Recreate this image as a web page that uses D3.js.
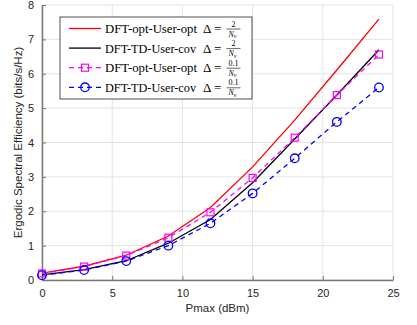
<!DOCTYPE html>
<html>
<head>
<meta charset="utf-8">
<script src="https://cdn.jsdelivr.net/npm/d3@7"></script>
<style>
  body { margin: 0; background: #fff; }
  svg { display: block; }
  .tick text { font-family: 'Liberation Sans', Arial, sans-serif; font-size: 11px; fill: #262626; }
</style>
</head>
<body>
<div id="chart"></div>
<script>
'use strict'

const pmax = [0, 3, 6, 9, 12, 15, 18, 21, 24]
const optUserOpt2 = [0.2, 0.4, 0.72, 1.28, 2.11, 3.29, 4.65, 6.11, 7.59]
const tdUserCov2 = [0.15, 0.3, 0.56, 1.07, 1.76, 2.83, 4.1, 5.38, 6.7]
const optUserOpt01 = [0.19, 0.39, 0.71, 1.23, 1.97, 2.97, 4.14, 5.38, 6.56]
const tdUserCov01 = [0.14, 0.29, 0.55, 1.0, 1.65, 2.52, 3.54, 4.6, 5.6]

const xTicks = [0, 5, 10, 15, 20, 25]
const yTicks = [0, 1, 2, 3, 4, 5, 6, 7, 8]

const series = [
  { name: 'DFT-opt-User-opt', num: '2', values: optUserOpt2, color: '#ff0000', dash: null, marker: null },
  { name: 'DFT-TD-User-cov', num: '2', values: tdUserCov2, color: '#000000', dash: null, marker: null },
  { name: 'DFT-opt-User-opt', num: '0.1', values: optUserOpt01, color: '#ff00ff', dash: '5,4', marker: 'square' },
  { name: 'DFT-TD-User-cov', num: '0.1', values: tdUserCov01, color: '#0000ff', dash: '5,4', marker: 'circle' }
]

const width = 417
const height = 325
const margin = { top: 5, right: 24, bottom: 45, left: 42 }
const w = width - margin.left - margin.right
const h = height - margin.top - margin.bottom

const svg = d3.select('#chart').append('svg')
  .attr('width', width)
  .attr('height', height)

const g = svg.append('g')
  .attr('transform', `translate(${margin.left}, ${margin.top})`)

const x = d3.scaleLinear().domain([0, 25]).range([0, w])
const y = d3.scaleLinear().domain([0, 8]).range([h, 0])

// grid
g.append('g').selectAll('line').data(xTicks).join('line')
  .attr('x1', (d) => x(d)).attr('x2', (d) => x(d))
  .attr('y1', 0).attr('y2', h)
  .attr('stroke', '#e3e3e3').attr('stroke-width', 1)
g.append('g').selectAll('line').data(yTicks).join('line')
  .attr('y1', (d) => y(d)).attr('y2', (d) => y(d))
  .attr('x1', 0).attr('x2', w)
  .attr('stroke', '#e3e3e3').attr('stroke-width', 1)

// axes
const xAxis = g.append('g')
  .attr('transform', `translate(0, ${h})`)
  .call(d3.axisBottom(x).tickValues(xTicks).tickSizeInner(-4).tickSizeOuter(0).tickPadding(9))
const yAxis = g.append('g')
  .call(d3.axisLeft(y).tickValues(yTicks).tickSizeInner(-4).tickSizeOuter(0).tickPadding(8))
for (const ax of [xAxis, yAxis]) {
  ax.select('.domain').attr('stroke', '#777').attr('stroke-width', 1.5)
  ax.selectAll('.tick line').attr('stroke', '#777')
}

// lines
const line = d3.line()
  .x((d, i) => x(pmax[i]))
  .y((d) => y(d))

series.forEach((s) => {
  g.append('path')
    .datum(s.values)
    .attr('fill', 'none')
    .attr('stroke', s.color)
    .attr('stroke-width', 1.3)
    .attr('stroke-dasharray', s.dash)
    .attr('d', line)
})

function drawMarker (sel, type, color, cx, cy) {
  if (type === 'square') {
    sel.append('rect')
      .attr('x', cx - 3.5).attr('y', cy - 3.5)
      .attr('width', 7).attr('height', 7)
      .attr('fill', 'none').attr('stroke', color).attr('stroke-width', 1.2)
  } else if (type === 'circle') {
    sel.append('circle')
      .attr('cx', cx).attr('cy', cy).attr('r', 4.3)
      .attr('fill', 'none').attr('stroke', color).attr('stroke-width', 1.3)
  }
}

series.filter((s) => s.marker).forEach((s) => {
  const mg = g.append('g')
  s.values.forEach((v, i) => drawMarker(mg, s.marker, s.color, x(pmax[i]), y(v)))
})

// axis labels
svg.append('text')
  .attr('x', margin.left + w / 2).attr('y', 312)
  .attr('text-anchor', 'middle')
  .attr('font-family', 'Liberation Sans, Arial, sans-serif')
  .attr('font-size', 11.5).attr('fill', '#262626')
  .text('Pmax (dBm)')
svg.append('text')
  .attr('transform', `translate(22, ${margin.top + h / 2}) rotate(-90)`)
  .attr('text-anchor', 'middle')
  .attr('font-family', 'Liberation Sans, Arial, sans-serif')
  .attr('font-size', 11.5).attr('fill', '#262626')
  .text('Ergodic Spectral Efficiency (bits/s/Hz)')

// legend
const legend = svg.append('g').attr('transform', 'translate(60, 17)')
legend.append('rect')
  .attr('width', 192).attr('height', 82)
  .attr('fill', '#fff').attr('stroke', '#262626').attr('stroke-width', 0.8)

const serif = 'Liberation Serif, Times New Roman, serif'
series.forEach((s, i) => {
  const ly = 11.5 + i * 19.6
  const row = legend.append('g').attr('transform', `translate(0, ${ly})`)
  row.append('line')
    .attr('x1', 9).attr('x2', 41).attr('y1', 0).attr('y2', 0)
    .attr('stroke', s.color).attr('stroke-width', 1.3)
    .attr('stroke-dasharray', s.dash)
  drawMarker(row, s.marker, s.color, 25, 0)
  row.append('text')
    .attr('x', 45).attr('y', 4.5)
    .attr('font-family', serif).attr('font-size', 13).attr('fill', '#000')
    .attr('textLength', s.name.length === 16 ? 92 : 91)
    .attr('lengthAdjust', 'spacingAndGlyphs')
    .text(s.name)
  row.append('text')
    .attr('x', 143).attr('y', 4.5)
    .attr('font-family', serif).attr('font-size', 13).attr('fill', '#000')
    .attr('xml:space', 'preserve')
    .text('\u0394 =')
  const fx = 173.5
  row.append('text')
    .attr('x', fx).attr('y', -2)
    .attr('text-anchor', 'middle')
    .attr('font-family', serif).attr('font-size', 8).attr('fill', '#000')
    .text(s.num)
  row.append('line')
    .attr('x1', fx - 7).attr('x2', fx + 7).attr('y1', 0.5).attr('y2', 0.5)
    .attr('stroke', '#000').attr('stroke-width', 0.6)
  const den = row.append('text')
    .attr('x', fx - 5).attr('y', 8)
    .attr('font-family', serif).attr('font-size', 8).attr('font-style', 'italic').attr('fill', '#000')
  den.append('tspan').text('N')
  den.append('tspan').attr('font-size', 6).attr('dy', 1.5).text('v')
})
</script>
</body>
</html>
